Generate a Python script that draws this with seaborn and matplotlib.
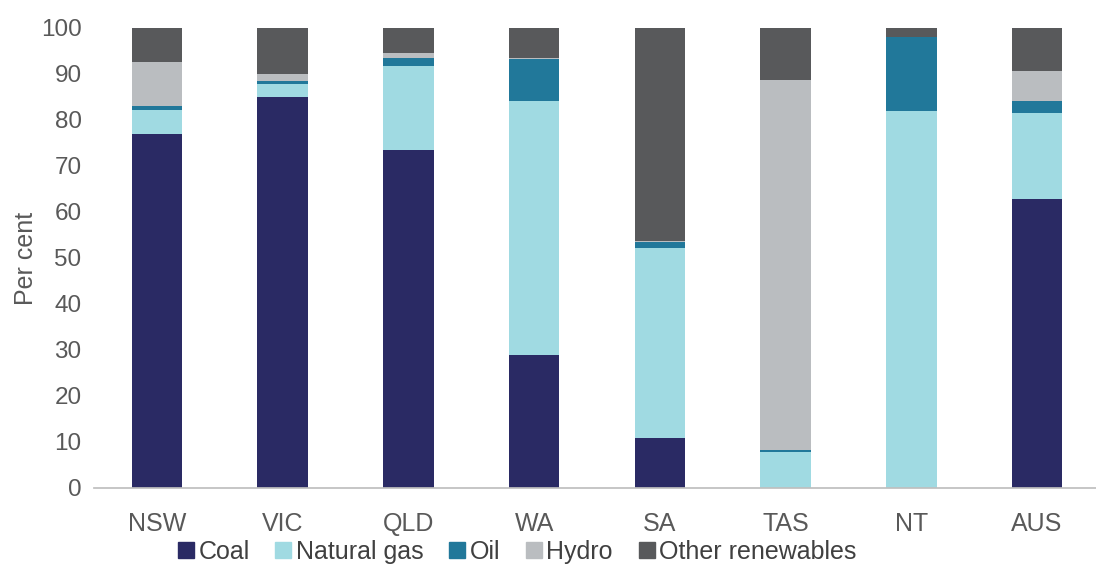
import matplotlib
matplotlib.use("Agg")
import matplotlib.pyplot as plt
import seaborn as sns
import numpy as np
from matplotlib.lines import Line2D

states = ["NSW", "VIC", "QLD", "WA", "SA", "TAS", "NT", "AUS"]
coal = [77.0, 85.0, 73.5, 29.0, 10.8, 0.0, 0.0, 62.9]
natural_gas = [5.2, 2.9, 18.3, 55.1, 41.4, 7.8, 82.0, 18.7]
oil = [0.8, 0.5, 1.7, 9.1, 1.2, 0.5, 16.0, 2.5]
hydro = [9.7, 1.7, 1.1, 0.3, 0.4, 80.4, 0.0, 6.6]
other_renewables = [7.3, 9.9, 5.4, 6.5, 46.2, 11.3, 2.0, 9.3]

series_names = ["Coal", "Natural gas", "Oil", "Hydro", "Other renewables"]
series = [coal, natural_gas, oil, hydro, other_renewables]
colors = ["#2a2a64", "#a0dae2", "#21789a", "#babdc0", "#58595b"]

sns.set_theme(style="white")
plt.rcParams["font.family"] = ["Liberation Sans", "DejaVu Sans"]

fig = plt.figure(figsize=(10.96, 5.65), dpi=100)
ax = fig.add_axes([94 / 1096, 1 - 488 / 565, (1100 - 94) / 1096, (488 - 28) / 565])

bottom = np.zeros(len(states))
for name, vals, col in zip(series_names, series, colors):
    sns.barplot(x=states, y=vals, bottom=bottom, color=col, width=0.4,
                ax=ax, edgecolor="none", linewidth=0, saturation=1)
    bottom = bottom + np.array(vals)

ax.set_ylim(0, 100)
ax.set_xlim(-0.5, 7.5)
ax.set_yticks(range(0, 101, 10))
ax.tick_params(axis="y", labelsize=17.5, labelcolor="#595959", length=0, pad=9)
ax.tick_params(axis="x", which="major", labelsize=18, labelcolor="#595959", length=0, pad=17)
ax.set_xticks(np.arange(-0.5, 8, 1), minor=True)
ax.tick_params(axis="x", which="minor", length=8, color="#bfbfbf", width=1, direction="out")
for s in ["top", "right", "left"]:
    ax.spines[s].set_visible(False)
ax.spines["bottom"].set_color("#bfbfbf")
ax.set_ylabel("Per cent", fontsize=18, color="#595959", labelpad=2)
ax.set_xlabel("")

handles = [Line2D([0], [0], marker="s", linestyle="none", markersize=12,
                  markerfacecolor=c, markeredgecolor=c) for c in colors]
fig.legend(handles, series_names, loc="center", bbox_to_anchor=(515 / 1096, 1 - 552 / 565),
           ncol=5, frameon=False, fontsize=18, handletextpad=0.0, columnspacing=0.85,
           handlelength=1.0, labelcolor="#404040")

fig.savefig("out.png", dpi=100)
